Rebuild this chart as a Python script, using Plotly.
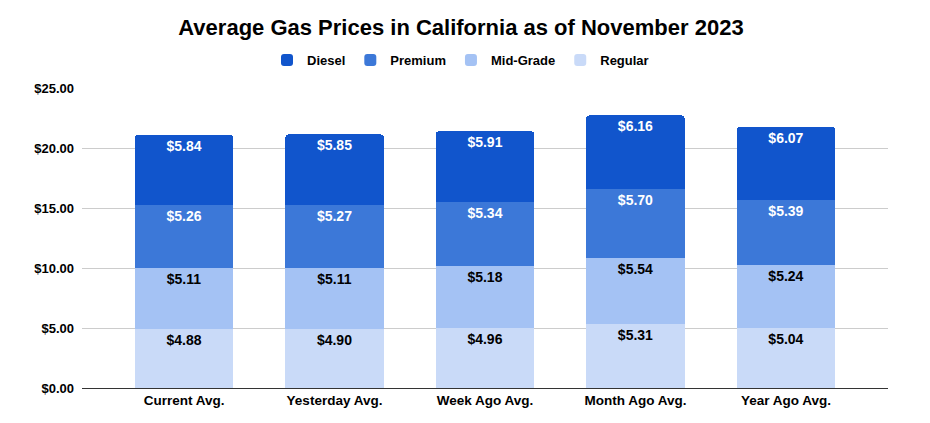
import plotly.graph_objects as go

categories = ["Current Avg.", "Yesterday Avg.", "Week Ago Avg.", "Month Ago Avg.", "Year Ago Avg."]
regular = [4.88, 4.90, 4.96, 5.31, 5.04]
mid_grade = [5.11, 5.11, 5.18, 5.54, 5.24]
premium = [5.26, 5.27, 5.34, 5.70, 5.39]
diesel = [5.84, 5.85, 5.91, 6.16, 6.07]
y_ticks = [0, 5, 10, 15, 20, 25]
y_tick_labels = ["$0.00", "$5.00", "$10.00", "$15.00", "$20.00", "$25.00"]

series = [
    ("Regular", regular, "#c9daf8", "#000000"),
    ("Mid-Grade", mid_grade, "#a4c2f4", "#000000"),
    ("Premium", premium, "#3c78d8", "#ffffff"),
    ("Diesel", diesel, "#1155cc", "#ffffff"),
]

font_family = "Liberation Sans, Arial, sans-serif"

fig = go.Figure()
for name, vals, color, tcolor in series:
    fig.add_trace(go.Bar(
        name=name, x=categories, y=vals,
        marker=dict(color=color, line=dict(width=0)),
        texttemplate="$%{y:.2f}", textposition="inside",
        insidetextanchor="end", textangle=0, constraintext="none",
        textfont=dict(color=tcolor, size=14, family=font_family, weight="bold"),
    ))

fig.update_layout(
    barmode="stack",
    bargap=0.347,
    barcornerradius=3,
    width=922, height=415,
    margin=dict(l=74, r=42, t=80, b=35),
    paper_bgcolor="white", plot_bgcolor="white",
    font=dict(family=font_family, size=12, color="#000000"),
    title=dict(text="<b>Average Gas Prices in California as of November 2023</b>",
               x=0.4913, xanchor="center", y=0.954, yanchor="middle",
               font=dict(size=22, color="#000000", family=font_family)),
    legend=dict(orientation="h", traceorder="reversed", x=0.4696, xanchor="center",
                y=1.093, yanchor="middle",
                font=dict(size=13, family=font_family, weight="bold"),
                itemclick=False),
    showlegend=True,
    xaxis=dict(range=[-0.678, 4.678], showgrid=False, showline=True,
               linecolor="#333333", linewidth=1, ticks="",
               tickfont=dict(size=13.5, family=font_family, weight="bold")),
    yaxis=dict(range=[0, 25], tickvals=y_ticks, ticktext=y_tick_labels,
               showgrid=True, gridcolor="#cccccc", zeroline=False, showline=False,
               ticks="", ticklabelstandoff=7,
               tickfont=dict(size=13, family=font_family, weight="bold")),
)

fig.write_html("out.html")
